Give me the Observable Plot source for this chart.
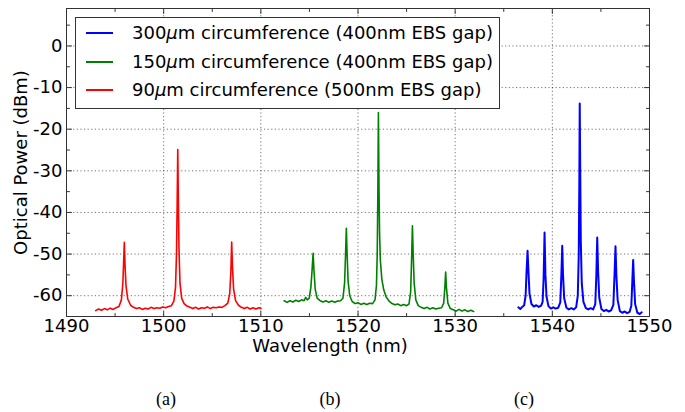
<!DOCTYPE html>
<html><head><meta charset="utf-8">
<script src="https://cdn.jsdelivr.net/npm/d3@7"></script>
<script src="https://cdn.jsdelivr.net/npm/@observablehq/plot@0.6"></script>
<style>
body{margin:0;background:#fff;}
#wrap{position:relative;width:685px;height:412px;font-family:"DejaVu Sans",sans-serif;color:#000;}
#legend{position:absolute;left:75px;top:17px;width:425px;height:92px;border:1px solid #333;background:#fff;box-sizing:border-box;font-size:18px;}
.row{position:absolute;left:0;height:28px;line-height:28px;white-space:nowrap;}
.sw{position:absolute;left:10px;top:13px;width:27px;height:2px;}
.lt{position:absolute;left:56px;top:0;}
#xlabel{position:absolute;left:330px;top:338px;transform:translateX(-50%);font-size:18px;line-height:16px;white-space:nowrap;}
.cap{position:absolute;top:389px;transform:translateX(-50%);font-family:"Liberation Serif",serif;font-size:18px;}
</style></head><body><div id="wrap"></div><script>
const xDomain = [1490, 1550];
const yDomain = [-65, 9];
const xMajorTicks = [1490, 1500, 1510, 1520, 1530, 1540, 1550];
const xMinorTicks = [1495, 1505, 1515, 1525, 1535, 1545];
const yMajorTicks = [-60, -50, -40, -30, -20, -10, 0];
const yMinorTicks = [-55, -45, -35, -25, -15, -5, 5];
const seriesLabels = ["300μm circumference (400nm EBS gap)", "150μm circumference (400nm EBS gap)", "90μm circumference (500nm EBS gap)"];
const seriesColors = ["#0000ff", "#008000", "#ff0000"];
const panelLabels = ["(a)", "(b)", "(c)"];

// 90 µm ring (red) : [wavelength nm, power dBm]
const red90 = [
[1493.0,-63.6],[1493.3,-63.2],[1493.6,-63.5],[1493.9,-63.1],[1494.2,-63.4],[1494.5,-63.0],[1494.8,-63.3],[1495.1,-62.9],[1495.4,-62.6],[1495.65,-61.0],[1495.8,-57],[1495.88,-52],[1495.95,-47.2],[1496.02,-52.5],[1496.12,-57.5],[1496.3,-60.8],[1496.6,-62.3],[1496.9,-62.8],[1497.2,-63.1],[1497.5,-62.9],[1497.8,-63.3],[1498.1,-63.0],[1498.4,-63.2],[1498.7,-62.8],[1499.0,-63.1],[1499.3,-62.9],[1499.6,-63.0],[1499.9,-62.7],[1500.2,-62.9],[1500.5,-62.6],[1500.8,-62.4],[1501.05,-61.3],[1501.22,-58],[1501.32,-50],[1501.39,-38],[1501.45,-24.9],[1501.51,-37],[1501.58,-49],[1501.68,-57],[1501.85,-60.6],[1502.1,-61.9],[1502.4,-62.5],[1502.7,-62.8],[1503.0,-63.1],[1503.3,-62.8],[1503.6,-63.2],[1503.9,-62.9],[1504.2,-63.0],[1504.5,-62.7],[1504.8,-63.1],[1505.1,-62.8],[1505.4,-62.9],[1505.7,-62.7],[1506.0,-62.8],[1506.3,-62.4],[1506.6,-61.8],[1506.8,-59.5],[1506.92,-54],[1507.0,-47.1],[1507.08,-53],[1507.2,-58.5],[1507.4,-61.2],[1507.7,-62.3],[1508.0,-62.8],[1508.3,-63.1],[1508.6,-62.8],[1508.9,-63.2],[1509.2,-62.9],[1509.5,-63.2],[1509.8,-62.9],[1510.0,-63.1]
];

// 150 µm ring (green)
const green150 = [
[1512.4,-61.2],[1512.7,-61.6],[1513.0,-61.2],[1513.3,-61.5],[1513.6,-61.1],[1513.9,-61.4],[1514.2,-61.0],[1514.45,-61.2],[1514.62,-60.4],[1514.78,-61.0],[1514.98,-60.6],[1515.15,-58],[1515.27,-54],[1515.38,-49.8],[1515.47,-54],[1515.6,-58.5],[1515.8,-60.6],[1516.1,-61.2],[1516.4,-61.5],[1516.7,-61.2],[1517.0,-61.6],[1517.3,-61.3],[1517.6,-61.6],[1517.9,-61.3],[1518.2,-61.2],[1518.45,-60.6],[1518.62,-57],[1518.72,-50],[1518.8,-43.8],[1518.88,-50],[1518.98,-56.5],[1519.15,-60.0],[1519.4,-61.4],[1519.7,-61.9],[1520.0,-61.7],[1520.3,-62.1],[1520.6,-61.8],[1520.9,-62.1],[1521.2,-61.8],[1521.5,-61.9],[1521.75,-61.0],[1521.9,-57.5],[1521.98,-50],[1522.04,-36],[1522.1,-16.0],[1522.16,-34],[1522.22,-45],[1522.3,-51.5],[1522.45,-56],[1522.65,-58.6],[1522.9,-60.3],[1523.2,-61.3],[1523.5,-61.9],[1523.8,-62.2],[1524.1,-62.0],[1524.4,-62.4],[1524.7,-62.1],[1525.0,-62.4],[1525.25,-62.0],[1525.42,-59],[1525.52,-51],[1525.6,-43.2],[1525.68,-50],[1525.78,-57],[1525.95,-61.0],[1526.2,-62.4],[1526.5,-62.8],[1526.8,-63.1],[1527.1,-62.8],[1527.4,-63.2],[1527.7,-62.9],[1528.0,-63.2],[1528.3,-63.0],[1528.6,-62.9],[1528.82,-61.8],[1528.94,-58],[1529.02,-54.3],[1529.1,-58],[1529.25,-61.8],[1529.5,-63.1],[1529.8,-63.4],[1530.1,-63.7],[1530.4,-63.3],[1530.7,-63.7],[1531.0,-63.4],[1531.3,-63.8],[1531.6,-63.5],[1531.9,-63.8]
];

// 300 µm ring (blue)
const blue300 = [
[1536.5,-62.8],[1536.7,-63.2],[1536.9,-62.7],[1537.1,-62.3],[1537.25,-60],[1537.35,-54],[1537.45,-49.2],[1537.54,-54],[1537.65,-59.5],[1537.85,-62.0],[1538.1,-62.6],[1538.35,-62.3],[1538.6,-62.7],[1538.85,-62.4],[1539.0,-61.5],[1539.1,-56],[1539.2,-44.8],[1539.29,-55],[1539.4,-60.2],[1539.6,-62.5],[1539.85,-63.1],[1540.1,-62.8],[1540.35,-63.1],[1540.6,-62.9],[1540.82,-61.6],[1540.93,-55],[1541.02,-48.0],[1541.1,-55],[1541.22,-60.6],[1541.45,-62.9],[1541.7,-63.3],[1541.95,-63.0],[1542.2,-63.3],[1542.45,-62.8],[1542.62,-60],[1542.72,-50],[1542.78,-32],[1542.82,-13.8],[1542.87,-30],[1542.93,-47],[1543.03,-57],[1543.2,-61.5],[1543.45,-63.0],[1543.7,-63.3],[1543.95,-63.0],[1544.2,-63.3],[1544.42,-62.0],[1544.53,-55],[1544.62,-46.0],[1544.71,-54],[1544.83,-60.5],[1545.05,-63.2],[1545.3,-63.7],[1545.55,-63.4],[1545.8,-63.8],[1546.05,-63.5],[1546.28,-62.2],[1546.4,-55],[1546.5,-48.1],[1546.59,-55],[1546.72,-61],[1546.95,-63.7],[1547.2,-64.1],[1547.45,-63.8],[1547.7,-64.2],[1547.95,-63.9],[1548.13,-62.4],[1548.24,-56],[1548.32,-51.4],[1548.4,-56.5],[1548.52,-62],[1548.75,-64.1],[1549.0,-64.4],[1549.2,-64.0]
];

const tickShape = {draw(ctx, l) { ctx.moveTo(0, 0); ctx.lineTo(0, -l); }};
const tk = (data, axis, anchor, rotate, len) => Plot.vector(data, {
  [axis]: d => d, frameAnchor: anchor, rotate, length: len, anchor: "start",
  shape: tickShape, stroke: "#333", strokeWidth: 1, fill: "none"
});

const chart = Plot.plot({
  width: 685, height: 360,
  marginTop: 8, marginBottom: 44, marginLeft: 66, marginRight: 36,
  style: {fontFamily: "DejaVu Sans, sans-serif", fontSize: "18px", color: "#000", background: "#fff"},
  x: {domain: xDomain},
  y: {domain: yDomain},
  marks: [
    Plot.gridX(xMajorTicks.slice(1, -1), {stroke: "#000", strokeOpacity: 0.55, strokeDasharray: "1.2,2.4"}),
    Plot.gridY(yMajorTicks, {stroke: "#000", strokeOpacity: 0.55, strokeDasharray: "1.2,2.4"}),
    Plot.line(red90, {x: d => d[0], y: d => d[1], stroke: seriesColors[2], strokeWidth: 1.6}),
    Plot.line(green150, {x: d => d[0], y: d => d[1], stroke: seriesColors[1], strokeWidth: 1.6}),
    Plot.line(blue300, {x: d => d[0], y: d => d[1], stroke: seriesColors[0], strokeWidth: 2}),
    tk(xMajorTicks, "x", "bottom", 0, 5), tk(xMinorTicks, "x", "bottom", 0, 3),
    tk(xMajorTicks, "x", "top", 180, 5), tk(xMinorTicks, "x", "top", 180, 3),
    tk(yMajorTicks, "y", "left", 90, 5), tk(yMinorTicks, "y", "left", 90, 3),
    tk(yMajorTicks, "y", "right", 270, 5), tk(yMinorTicks, "y", "right", 270, 3),
    Plot.axisX({ticks: xMajorTicks, tickSize: 0, tickPadding: 3, tickFormat: d => String(d), label: null}),
    Plot.axisY({ticks: yMajorTicks, tickSize: 0, tickPadding: 4, tickFormat: d => String(d),
      label: "Optical Power (dBm)", labelAnchor: "center", labelArrow: "none", labelOffset: 52}),
    Plot.frame({stroke: "#333", strokeWidth: 1})
  ]
});

const wrap = document.getElementById("wrap");
wrap.appendChild(chart);

const legend = document.createElement("div");
legend.id = "legend";
seriesLabels.forEach((lab, i) => {
  const row = document.createElement("div");
  row.className = "row";
  row.style.top = (1 + i * 28.5) + "px";
  row.style.width = "100%";
  const sw = document.createElement("span");
  sw.className = "sw";
  sw.style.background = seriesColors[i];
  const t = document.createElement("span");
  t.className = "lt";
  const parts = lab.split("μ");
  t.append(parts[0]);
  const mu = document.createElement("i"); mu.textContent = "μ";
  t.append(mu, parts[1]);
  row.append(sw, t);
  legend.appendChild(row);
});
wrap.appendChild(legend);

const xl = document.createElement("div");
xl.id = "xlabel"; xl.textContent = "Wavelength (nm)";
wrap.appendChild(xl);

const capX = [166, 330, 524];
panelLabels.forEach((p, i) => {
  const c = document.createElement("div");
  c.className = "cap"; c.style.left = capX[i] + "px"; c.textContent = p;
  wrap.appendChild(c);
});
</script></body></html>
